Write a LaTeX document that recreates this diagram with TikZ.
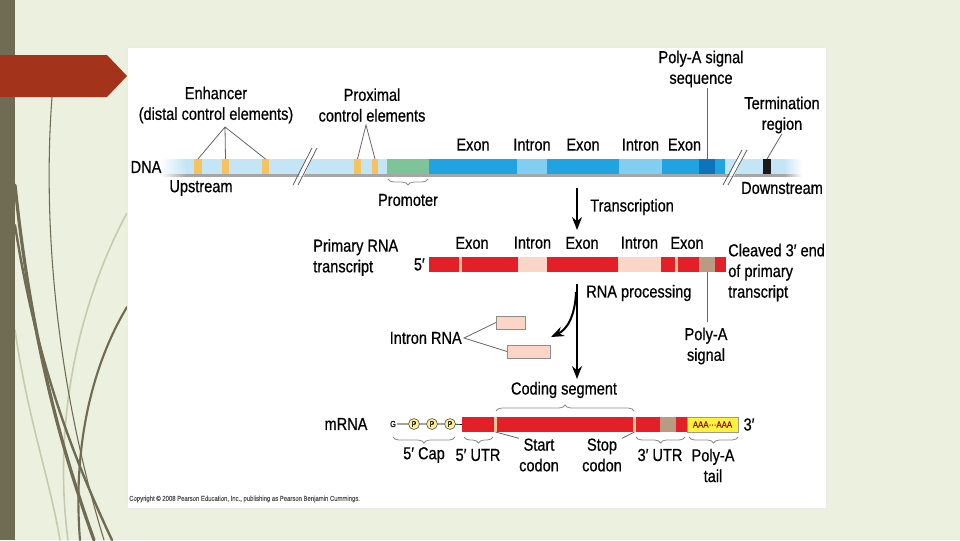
\documentclass[tikz,border=0pt]{standalone}
\usepackage{fontspec}
\setmainfont[FakeStretch=0.84, FakeBold=0.6]{Liberation Sans}
\usetikzlibrary{arrows.meta,positioning,calc,fit,decorations.pathreplacing}
\definecolor{slidebg}{HTML}{ECF0DE}
\definecolor{slidebar}{HTML}{706B53}
\definecolor{slidepale}{HTML}{C5CBAE}
\definecolor{slidearrow}{HTML}{A3341B}
\definecolor{dnapale}{HTML}{C4E5F6}
\definecolor{dnaexon}{HTML}{1FA3E1}
\definecolor{dnaintron}{HTML}{82CEF2}
\definecolor{dnasignal}{HTML}{0B74BA}
\definecolor{enhorange}{HTML}{F7C360}
\definecolor{promgreen}{HTML}{7DC598}
\definecolor{rnared}{HTML}{E3202A}
\definecolor{rnaintron}{HTML}{FBD6C7}
\definecolor{rnastripe}{HTML}{F6C29A}
\definecolor{rnabrown}{HTML}{B89B80}
\definecolor{tailyellow}{HTML}{FFF23C}
\definecolor{capyellow}{HTML}{F9EE9C}
\tikzset{
  lbl/.style={font=\fontsize{13}{15.5}\selectfont, inner sep=0pt, align=center},
  leftlbl/.style={lbl, align=left},
  seg/.style={inner sep=0pt, outer sep=0pt},
  pointer/.style={draw=black!60, line width=0.6pt},
  brcdown/.style={decorate, decoration={brace, mirror, amplitude=4.5pt}, draw=black!45, line width=0.6pt},
  brcup/.style={decorate, decoration={brace, amplitude=4.5pt}, draw=black!45, line width=0.6pt},
  flowarrow/.style={-{Stealth[length=3.4mm, width=2.6mm]}, line width=1.5pt},
  breakline/.style={draw=black!70, line width=0.5pt},
  capp/.style={circle, draw=black!75, fill=capyellow, line width=0.4pt, inner sep=0pt,
               minimum size=8.2pt, font=\fontsize{6}{6}\selectfont},
  strand/.style={draw=slidebar, line cap=round},
  palestrand/.style={draw=slidepale, line cap=round}
}
\begin{document}
\begin{tikzpicture}[x=0.75pt, y=-0.75pt, node distance=6pt]
\useasboundingbox (0,0) rectangle (960,540);
\fill[slidebg] (0,0) rectangle (960,540);
% slide decoration
\draw[palestrand, line width=1.2pt] (127,213) .. controls (80,300) and (52,420) .. (68,540);
\draw[palestrand, line width=1.2pt] (15,330) .. controls (28,420) and (50,480) .. (60,540);
\draw[strand, line width=0.8pt] (52,97) .. controls (42,230) and (58,390) .. (104,540);
\draw[strand, line width=2.4pt] (15,185) .. controls (30,330) and (58,440) .. (94,540);
\draw[strand, line width=1.8pt] (15,225) .. controls (36,360) and (72,455) .. (112,540);
\draw[strand, line width=1.6pt] (127,307) .. controls (95,360) and (72,440) .. (80,540);
\fill[slidebar] (0,0) rectangle (15,540);
\fill[slidearrow] (0,55) -- (107,55) -- (127,76) -- (107,97) -- (0,97) -- cycle;
\node[seg, fill=white, draw=black!8, fit={(127,47) (826,508)}] (panel) {};

% DNA
\shade[left color=white, right color=dnapale] (160,159) rectangle (186,174);
\fill[dnapale] (186,159) rectangle (784,174);
\shade[left color=dnapale, right color=white] (784,159) rectangle (802,174);
\shade[left color=white, right color=black!35] (160,174) rectangle (186,176.5);
\fill[black!35] (186,174) rectangle (784,176.5);
\shade[left color=black!35, right color=white] (784,174) rectangle (802,176.5);
\node[seg, fill=enhorange, fit={(194,159) (202,174)}] (enh1) {};
\node[seg, fill=enhorange, fit={(222,159) (229,174)}] (enh2) {};
\node[seg, fill=enhorange, fit={(262,159) (269,174)}] (enh3) {};
\node[seg, fill=enhorange, fit={(354,159) (361,174)}] (prox1) {};
\node[seg, fill=enhorange, fit={(372,159) (378,174)}] (prox2) {};
\node[seg, fill=promgreen, fit={(387,159) (429,174)}] (prom) {};
\node[seg, fill=dnaexon, fit={(429,159) (517,174)}] (dex1) {};
\node[seg, fill=dnaintron, fit={(517,159) (547,174)}] (din1) {};
\node[seg, fill=dnaexon, fit={(547,159) (619,174)}] (dex2) {};
\node[seg, fill=dnaintron, fit={(619,159) (662,174)}] (din2) {};
\node[seg, fill=dnaexon, fit={(662,159) (699,174)}] (dex3) {};
\node[seg, fill=dnasignal, fit={(699,159) (715,174)}] (dpas) {};
\node[seg, fill=dnaexon, fit={(715,159) (725,174)}] (dex4) {};
\node[seg, fill=black!90, fit={(763,159) (771,174)}] (term) {};
\fill[white] (298.6,176.5) -- (306.4,159) -- (311.4,159) -- (303.6,176.5) -- cycle;
\draw[breakline] (293,185) -- (312,148) (298,185) -- (317,148);
\fill[white] (729,176.5) -- (737.1,159) -- (742.1,159) -- (734,176.5) -- cycle;
\draw[breakline] (723,185) -- (742,150) (728,185) -- (747,150);

\node[lbl] (dnalbl) at (146,167) {DNA};
\node[lbl] (upstream) at (201,188) {Upstream};
\node[lbl] (downstream) at (782,188) {Downstream};
\node[lbl] (enhlbl) at (216,105) {Enhancer\\(distal control elements)};
\coordinate (enhfork) at (225,127);
\draw[pointer] (enh1.north) -- (enhfork) -- (enh3.north) (enhfork) -- (enh2.north);
\node[lbl] (proxlbl) at (372,105) {Proximal\\control elements};
\coordinate (proxfork) at (366,125);
\draw[pointer] (prox1.north) -- (proxfork) -- (prox2.north);
\draw[brcdown] (388,179) -- (428,179);
\node[lbl] (promlbl) at (408,200) {Promoter};
\node[lbl, above=6pt of dex1] (dexlbl1) {Exon};
\node[lbl, above=6pt of din1] (dinlbl1) {Intron};
\node[lbl, above=6pt of dex2] (dexlbl2) {Exon};
\node[lbl, above=6pt of din2] (dinlbl2) {Intron};
\node[lbl, above=6pt of dex3, xshift=3pt] (dexlbl3) {Exon};
\node[lbl] (pasqlbl) at (701,69) {Poly-A signal\\sequence};
\draw[pointer] (dpas.north) -- (dpas.north |- pasqlbl.south);
\node[lbl] (termlbl) at (782,115) {Termination\\region};
\draw[pointer] (termlbl.south) -- (term.north);

% transcription
\coordinate (txtop) at (577,188);
\coordinate (txend) at (577,230);
\draw[flowarrow] (txtop) -- (txend);
\node[lbl, anchor=west] (txlbl) at (590,207) {Transcription};

% primary transcript
\node[seg, fill=rnared, fit={(429,257) (726,272)}] (rnabar) {};
\node[seg, fill=rnastripe, fit={(459,257) (462,272)}] (rstr1) {};
\node[seg, fill=rnaintron, fit={(518,257) (547,272)}] (rint1) {};
\node[seg, fill=rnaintron, fit={(618,257) (661,272)}] (rint2) {};
\node[seg, fill=rnastripe, fit={(675,257) (678,272)}] (rstr2) {};
\node[seg, fill=rnabrown, fit={(699,257) (715,272)}] (rpas) {};
\node[lbl] (rexlbl1) at (472,243) {Exon};
\node[lbl, above=6pt of rint1] (rinlbl1) {Intron};
\node[lbl] (rexlbl2) at (582,243) {Exon};
\node[lbl, above=6pt of rint2] (rinlbl2) {Intron};
\node[lbl] (rexlbl3) at (687,243) {Exon};
\node[lbl, left=3pt of rnabar] (rna5) {5′};
\node[leftlbl, anchor=west] (primlbl) at (313,257.5) {Primary RNA\\transcript};
\node[leftlbl, anchor=west] (cleavlbl) at (728,272.5) {Cleaved 3′ end\\of primary\\transcript};
\node[lbl] (rpaslbl) at (706,346) {Poly-A\\signal};
\draw[pointer, shorten >=4pt] (rpas.south) -- (rpas.south |- rpaslbl.north);

% processing
\coordinate (rptop) at (577,284);
\coordinate (rpend) at (577,379);
\draw[flowarrow] (rptop) -- (rpend);
\node[lbl, anchor=west] (rplbl) at (586,293) {RNA processing};
\coordinate (cvstart) at (576,292);
\coordinate (cvend) at (551,337);
\draw[flowarrow] (cvstart) .. controls (575,318) and (566,330) .. (cvend);
\node[seg, fill=rnaintron, draw=black!45, line width=0.4pt, fit={(496,316) (525,329)}] (ibox1) {};
\node[seg, fill=rnaintron, draw=black!45, line width=0.4pt, fit={(507,345) (550,358)}] (ibox2) {};
\coordinate (intfork) at (464,338);
\node[lbl, anchor=east] (intlbl) at (462,338) {Intron RNA};
\draw[pointer] (ibox1.west) -- (intfork) -- (ibox2.west);

% mRNA
\node[lbl] (mrnalbl) at (346,424) {mRNA};
\node[seg, fill=rnared, fit={(462,417) (687,432)}] (mrnabar) {};
\node[seg, fill=rnastripe, fit={(494,417) (497,432)}] (mstart) {};
\node[seg, fill=rnastripe, fit={(633,417) (636,432)}] (mstop) {};
\node[seg, fill=rnabrown, fit={(660,417) (676,432)}] (mpas) {};
\node[seg, fill=tailyellow, draw=black!40, line width=0.4pt, fit={(687,417) (738,432)}] (mtail) {};
\node[font=\fontsize{7}{7}\selectfont, text=rnared!60!black, inner sep=0pt] (taila) at (mtail) {AAA···AAA};
\node[lbl, right=4pt of mtail] (m3lbl) {3′};
\node[font=\fontsize{6.5}{6.5}\selectfont, inner sep=0.5pt] (capg) at (393,424) {G};
\node[capp] (p1) at (414,424) {P};
\node[capp] (p2) at (432,424) {P};
\node[capp] (p3) at (450,424) {P};
\draw[line width=0.5pt] (capg) -- (p1) -- (p2) -- (p3) -- (mrnabar.west);
\draw[brcdown] (393,437) -- (455,437);
\draw[brcdown] (464,437) -- (493,437);
\draw[brcdown] (636,437) -- (685,437);
\draw[brcdown] (689,437) -- (738,437);
\draw[brcup] (496,411) -- (634,411);
\node[lbl] (codlbl) at (564,390) {Coding segment};
\node[lbl] (caplbl) at (424,455) {5′ Cap};
\node[lbl] (utr5lbl) at (478,455) {5′ UTR};
\node[lbl] (utr3lbl) at (660,455) {3′ UTR};
\node[lbl] (taillbl) at (713,465.5) {Poly-A\\tail};
\node[lbl] (startlbl) at (539,455) {Start\\codon};
\node[lbl] (stoplbl) at (602,455) {Stop\\codon};
\draw[pointer] (mstart.south) -- (startlbl.north west);
\draw[pointer] (mstop.south) -- (stoplbl.north east);

\node[font=\fontsize{5.3}{5.5}\selectfont, text=black!65, anchor=west, inner sep=0pt] (copyr) at (129,499) {Copyright © 2008 Pearson Education, Inc., publishing as Pearson Benjamin Cummings.};
\end{tikzpicture}
\end{document}
